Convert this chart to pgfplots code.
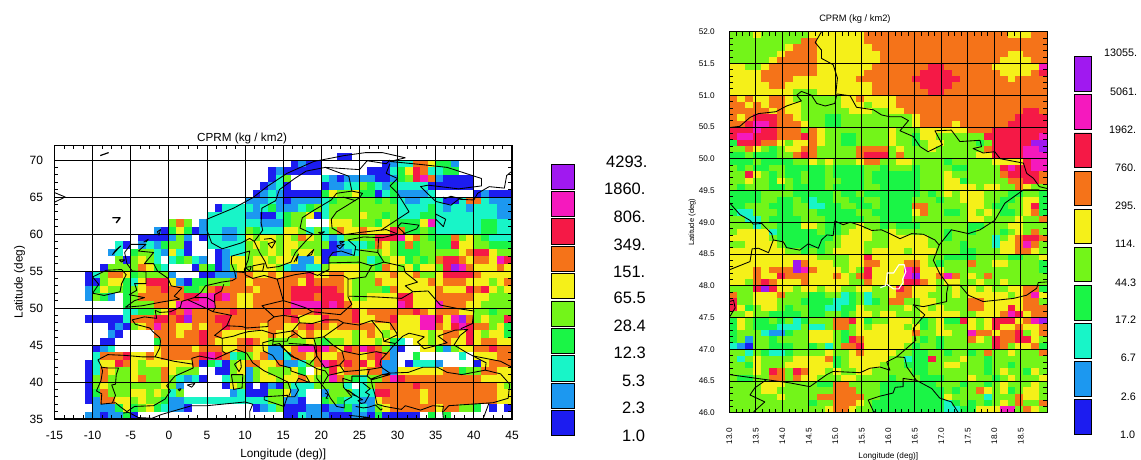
\documentclass[border=0pt]{standalone}
\usepackage{fontspec}
\setmainfont{Liberation Sans}
\usepackage{pgfplots}
\usepackage{pgfplotstable}
\pgfplotsset{compat=1.18}
\definecolor{c1}{RGB}{28,28,240}
\definecolor{c2}{RGB}{28,152,240}
\definecolor{c3}{RGB}{24,245,200}
\definecolor{c4}{RGB}{26,245,70}
\definecolor{c5}{RGB}{115,245,25}
\definecolor{c6}{RGB}{245,240,25}
\definecolor{c7}{RGB}{245,115,25}
\definecolor{c8}{RGB}{245,25,70}
\definecolor{c9}{RGB}{245,25,190}
\definecolor{c10}{RGB}{160,25,240}
\pgfdeclareplotmark{lcell}{\pgfpathrectangle{\pgfpoint{-3.86pt}{-3.74pt}}{\pgfpoint{7.72pt}{7.48pt}}\pgfusepathqfill}
\pgfdeclareplotmark{rcell}{\pgfpathrectangle{\pgfpoint{-4.02pt}{-3.22pt}}{\pgfpoint{8.04pt}{6.44pt}}\pgfusepathqfill}
\pgfplotsset{
  colormap={cprm}{color=(white) color=(c1) color=(c2) color=(c3) color=(c4) color=(c5) color=(c6) color=(c7) color=(c8) color=(c9) color=(c10)},
  coast/.style={black,line width=0.85pt,forget plot,no marks,line join=round},
  cellaxis/.style={anchor=south west, scale only axis, hide axis, colormap name=cprm, point meta min=0, point meta max=10},
  mapaxis/.style={
    anchor=south west, scale only axis,
    grid=major, major grid style={black,line width=0.9pt},
    tick align=inside, tick style={black,line width=0.8pt}, major tick length=3pt, minor tick length=4pt,
    axis line style={black,line width=1.2pt},
    /pgf/number format/assume math mode=true,
  },
}
% rows: latitude of the cell centre, then classes 0 (no value), 1 (blue) ... 10 (purple); lon -11 ... 44
\pgfplotstableread[header=false]{
70.5  0 0 0 0 0 0 0 0 0 0  0 0 0 0 0 0 0 0 0 0  0 0 0 0 0 0 0 0 0 0  0 0 0 1 1 0 0 0 0 0  0 0 0 0 0 0 0 0 0 0  0 0 0 0 0 0
69.5  0 0 0 0 0 0 0 0 0 0  0 0 0 0 0 0 0 0 0 0  0 0 0 0 0 0 0 1 2 1  1 0 0 0 0 0 0 0 0 1  2 3 3 7 7 6 4 4 2 0  0 0 0 0 0 0
68.5  0 0 0 0 0 0 0 0 0 0  0 0 0 0 0 0 0 0 0 0  0 0 0 0 1 2 1 1 1 1  1 0 0 0 0 0 0 1 1 1  3 4 6 8 7 3 3 4 4 0  0 0 0 0 0 0
67.5  0 0 0 0 0 0 0 0 0 0  0 0 0 0 0 0 0 0 0 0  0 0 0 0 1 3 5 0 0 0  0 3 2 1 2 2 2 2 1 1  2 4 5 8 9 7 2 1 1 1  1 0 0 0 0 0
66.5  0 0 0 0 0 0 0 0 0 0  0 0 0 0 0 0 0 0 0 0  0 0 0 1 2 3 1 0 0 0  0 1 2 2 3 3 5 4 3 2  4 3 3 3 3 1 1 1 1 1  1 0 0 0 0 0
65.5  0 0 0 0 0 0 0 0 0 0  0 0 0 0 0 0 0 0 0 0  0 0 1 2 3 2 1 1 1 1  1 4 6 5 5 6 4 4 1 3  4 2 2 2 2 3 0 0 0 0  0 1 2 1 1 1
64.5  0 0 0 0 0 0 0 0 0 0  0 0 0 0 0 0 0 0 0 0  0 2 2 2 3 2 1 2 2 2  2 3 4 5 5 5 5 5 4 5  4 3 2 2 3 3 3 1 1 3  7 7 3 2 2 2
63.5  0 0 0 0 0 0 0 0 0 0  0 0 0 0 0 0 0 1 3 3  3 3 2 3 4 2 2 2 3 4  5 3 5 5 5 5 5 5 5 5  5 3 3 3 3 4 3 2 3 3  2 3 3 3 2 2
62.5  0 0 0 0 0 0 0 0 0 0  0 0 0 0 0 0 3 3 3 3  3 2 2 1 1 3 4 5 5 6  1 3 5 5 5 5 6 5 5 4  5 3 3 3 4 4 3 3 3 3  3 3 3 3 2 2
61.5  0 0 0 0 0 0 0 0 0 0  0 5 7 5 0 2 3 3 3 3  3 3 3 2 2 2 4 5 5 0  0 0 6 6 6 5 5 5 4 6  5 4 4 4 6 9 3 3 3 3  3 3 4 4 3 3
60.5  0 0 0 0 0 0 0 0 0 2  1 4 6 4 1 2 3 3 2 2  3 5 4 3 3 3 6 6 5 3  5 3 5 7 6 6 7 6 6 6  8 7 4 4 5 4 3 3 3 3  3 3 4 4 3 3
59.5  0 0 0 0 0 0 0 1 1 1  1 2 5 2 0 1 3 3 2 2  3 6 5 6 6 5 6 5 7 6  5 3 2 3 5 5 5 5 8 8  8 9 6 7 5 4 4 4 7 5  6 5 4 3 3 3
58.5  0 0 0 0 3 1 0 2 3 2  4 5 5 1 0 0 3 3 3 3  3 5 6 5 6 5 6 6 5 5  5 5 1 2 3 3 3 4 7 6  5 4 7 4 5 5 4 4 8 6  6 5 5 4 4 4
57.5  0 0 0 2 3 0 4 5 5 3  2 6 3 1 0 0 0 1 2 3  3 5 5 5 6 5 6 5 6 6  5 1 1 2 2 3 5 5 5 6  5 4 4 4 5 5 5 5 5 6  7 8 8 6 5 5
56.5  0 0 0 0 5 1 5 6 5 3  0 3 4 5 3 2 0 1 2 6  6 5 6 6 5 6 6 6 2 2  6 1 5 5 5 5 5 3 4 5  6 6 4 5 4 5 7 8 8 7  6 7 7 6 9 8
55.5  0 0 1 5 5 5 5 7 6 4  3 0 0 0 1 5 4 1 2 5  6 5 6 6 6 5 3 2 2 3  3 5 6 6 6 6 5 5 4 7  6 5 6 4 6 6 5 8 10 9  7 6 6 6 7 6
54.5  1 3 5 7 7 6 4 5 5 5  5 2 0 0 0 1 1 2 2 2  7 7 6 6 7 6 7 7 7 8  6 6 7 7 6 6 5 5 6 6  7 6 6 7 5 5 6 8 8 8  8 7 6 6 6 6
53.5  1 1 5 6 6 4 3 6 8 8  8 6 2 1 4 4 5 5 5 7  7 6 7 7 7 7 7 7 6 8  7 7 7 7 6 5 5 5 7 6  6 6 6 6 6 7 6 7 7 7  6 6 6 5 6 7
52.5  2 4 6 5 5 4 5 6 7 7  8 7 7 4 4 5 7 8 7 7  7 7 6 7 7 7 7 8 8 8  8 8 8 7 6 5 5 5 5 4  7 6 6 6 6 6 7 6 6 6  8 7 8 6 5 6
51.5  2 5 4 2 0 4 5 7 7 7  7 7 7 8 8 9 9 8 9 7  6 6 7 7 7 7 7 8 8 8  7 8 8 8 6 5 5 6 6 6  6 8 8 6 6 6 7 7 7 7  7 6 6 5 5 5
50.5  0 0 0 0 0 4 5 5 5 7  7 6 9 9 9 9 9 7 7 7  6 6 7 7 7 7 7 9 9 9  9 8 9 8 7 6 6 6 6 6  6 9 8 6 6 6 9 7 7 7  6 6 5 5 5 5
49.5  0 0 0 0 0 3 3 4 4 5  6 8 7 9 7 7 7 7 7 8  7 7 7 7 7 7 8 7 7 7  8 7 7 7 7 8 6 7 7 7  7 7 7 8 7 6 7 7 7 6  6 5 5 4 5 5
48.5  1 1 1 1 1 3 7 7 7 8  8 7 8 10 7 7 7 8 8 7  7 7 7 7 7 7 7 8 6 6  6 8 7 7 7 8 6 6 7 7  8 6 6 6 9 9 8 6 9 10  7 5 6 5 5 8
47.5  0 0 0 1 2 1 5 6 7 9  7 7 6 6 7 6 7 7 8 7  7 7 7 6 7 7 6 6 7 8  7 7 6 7 7 7 7 7 6 6  7 6 6 6 9 9 7 6 8 9  8 7 7 5 6 4
46.5  0 0 0 2 1 0 0 0 0 7  7 7 6 7 7 8 7 7 6 6  6 6 6 6 7 6 6 7 6 7  6 6 6 6 6 5 6 7 6 5  6 6 6 6 6 5 6 7 7 6  8 6 5 6 6 4
45.5  0 0 1 1 0 0 0 0 0 4  7 7 7 7 7 8 7 6 6 6  7 8 7 6 5 5 5 5 5 6  5 4 5 5 6 5 6 6 5 6  4 3 0 6 6 5 6 7 6 6  8 6 7 7 6 6
44.5  0 1 2 3 0 0 0 0 0 6  7 7 7 7 6 7 7 7 6 6  7 7 6 6 2 2 6 7 9 9  8 9 7 6 8 7 9 8 7 5  2 1 0 0 6 6 4 2 5 6  6 7 7 8 7 7
43.5  0 3 7 7 7 8 6 6 7 6  7 7 7 7 7 8 9 8 7 3  4 5 6 7 2 2 3 7 7 6  7 6 6 7 7 7 6 7 8 7  2 0 0 4 0 0 0 0 0 3  0 6 6 6 7 7
42.5  1 3 6 6 8 7 6 5 6 6  6 6 6 6 7 1 4 3 1 5  6 7 7 6 6 7 2 2 3 5  7 9 8 7 8 7 8 6 8 2  2 0 1 3 3 3 2 0 0 0  0 1 6 7 7 7
41.5  1 3 7 6 5 5 6 5 5 5  7 6 5 5 5 0 0 1 1 5  6 2 5 6 5 5 5 6 4 0  6 5 8 6 7 7 6 7 7 2  2 6 6 6 6 6 6 7 7 4  5 5 7 7 6 6
40.5  1 5 7 5 5 5 6 7 5 5  7 5 3 2 3 1 0 0 3 5  5 2 5 6 6 5 6 6 7 6  5 5 9 7 5 4 3 5 5 7  9 8 7 7 7 7 7 7 7 7  7 7 6 6 6 6
39.5  1 5 6 5 5 5 5 5 5 5  6 5 2 0 0 0 0 0 1 6  5 1 0 1 2 1 5 3 3 3  5 5 5 5 3 0 3 5 7 7  7 7 7 8 7 7 7 7 7 7  7 7 7 7 6 5
38.5  1 4 7 5 5 5 6 6 5 6  5 3 5 0 0 0 0 0 0 2  3 1 1 1 5 5 6 2 3 0  0 2 5 5 5 3 3 3 8 8  7 7 7 7 6 7 7 7 7 7  7 7 7 7 6 6
37.5  1 2 7 7 6 6 5 6 5 5  4 2 2 3 3 3 3 3 3 3  3 3 3 3 5 5 2 2 1 0  0 4 5 4 3 3 2 2 6 7  7 7 7 7 6 7 7 7 7 7  7 7 7 7 6 6
36.5  0 2 2 2 4 6 4 5 6 4  3 2 2 1 0 0 0 0 0 0  0 0 1 2 3 5 1 1 1 2  2 1 2 2 4 2 3 2 5 6  7 7 7 7 7 7 6 7 7 5  5 4 0 1 0 1
35.5  2 2 1 2 2 4 1 0 0 0  0 0 0 0 0 0 0 0 0 0  0 0 0 0 0 0 1 1 3 2  2 2 1 1 1 2 2 1 4 1  1 1 1 1 0 4 0 4 0 0  0 0 0 0 0 0
}\leftdata
% rows: latitude of the cell centre, then classes; 40 cells of 0.15 deg from 13.0 to 19.0
\pgfplotstableread[header=false]{
51.95  5 5 5 6 5 5 5 5 5 5 6 6 6 6 6 6 6 7 7 7  7 7 7 7 7 7 7 7 7 7 7 7 7 7 7 6 6 6 7 7
51.85  5 5 5 5 5 5 5 5 5 7 7 6 6 6 6 6 6 7 7 7  7 7 7 7 7 7 7 7 7 7 7 7 7 7 7 7 7 7 7 7
51.75  5 5 5 5 5 5 5 6 7 7 7 6 6 6 6 6 6 6 7 7  7 7 7 7 7 7 7 7 7 7 7 7 7 7 7 7 7 7 7 7
51.65  5 5 5 5 5 5 6 7 7 7 7 6 6 6 6 6 6 6 6 7  7 7 7 7 7 7 7 7 7 7 7 7 7 7 7 6 6 7 7 7
51.55  5 5 5 5 5 6 7 7 7 7 7 6 6 6 6 6 6 6 6 7  7 7 7 7 7 7 7 7 7 7 7 7 7 7 6 6 6 6 7 7
51.45  6 6 5 5 6 7 7 7 7 7 7 6 6 6 6 6 6 6 7 7  7 7 7 7 7 8 8 7 7 7 7 7 7 6 6 6 6 6 6 9
51.35  6 6 6 6 7 7 7 7 7 7 7 6 6 6 6 6 6 7 7 7  7 7 7 7 8 8 8 8 7 7 7 7 7 7 6 6 6 6 7 8
51.25  6 6 6 6 7 7 7 7 6 6 6 6 6 6 6 6 7 7 7 7  7 7 7 8 8 8 8 8 8 7 7 7 7 7 7 6 7 7 7 7
51.15  6 6 6 6 6 7 7 6 6 6 6 6 6 6 6 6 6 6 7 7  7 7 7 7 8 8 8 8 7 7 7 7 7 7 7 7 7 7 7 7
51.05  6 6 6 6 6 6 6 6 5 5 5 6 6 6 6 6 6 6 7 7  7 7 7 7 7 8 8 7 7 7 7 7 7 7 7 7 7 7 7 7
50.95  7 6 7 6 6 7 7 6 5 5 5 5 5 5 6 6 7 6 6 6  6 7 7 7 7 7 7 7 7 7 7 7 7 7 7 7 7 7 7 7
50.85  7 7 6 7 6 7 7 6 6 5 5 5 5 5 6 6 6 5 6 6  6 7 7 7 7 7 7 7 7 7 7 7 7 7 7 7 7 7 7 7
50.75  7 7 7 7 7 6 7 6 6 5 5 5 5 5 5 6 6 6 5 5  6 6 7 7 7 7 7 7 7 7 7 7 7 7 7 7 7 8 8 7
50.65  7 6 7 8 8 8 7 7 6 5 5 5 4 4 5 5 5 5 5 5  5 5 5 6 7 7 7 7 7 7 7 7 7 7 7 7 8 8 8 8
50.55  7 7 8 9 9 8 7 7 7 6 5 5 4 4 5 5 5 5 5 5  5 5 5 6 7 7 7 7 6 7 7 7 7 7 7 8 8 8 8 8
50.45  8 8 8 9 8 8 7 7 7 5 7 6 5 5 5 5 5 5 5 5  6 5 5 5 6 6 6 6 6 6 7 7 7 8 8 8 8 8 8 8
50.35  8 9 9 8 8 8 7 7 7 8 7 6 5 5 4 4 5 5 5 5  6 5 5 4 6 6 5 5 5 5 5 5 8 8 8 8 8 8 8 9
50.25  4 8 8 8 7 7 6 5 6 6 7 6 5 5 4 4 5 5 5 5  6 5 5 4 5 6 6 5 5 5 5 4 5 8 8 8 8 8 10 10
50.15  5 5 7 6 5 4 5 6 6 7 7 5 5 5 5 5 7 7 7 7  5 6 5 5 5 6 5 5 5 5 5 5 7 8 8 8 8 9 9 10
50.05  4 4 5 4 4 4 5 5 7 8 7 5 5 5 5 5 7 8 8 8  5 7 5 5 5 5 5 5 5 5 5 6 6 8 8 8 8 9 9 9
49.95  4 4 4 5 4 4 4 4 5 5 6 5 6 5 5 5 6 7 7 5  5 6 6 5 5 5 5 4 5 5 5 5 5 6 6 6 6 8 9 9
49.85  5 4 5 4 4 5 5 4 4 4 4 4 5 4 4 4 4 5 5 4  5 5 5 4 5 5 5 5 4 4 5 5 5 5 8 9 8 8 9 9
49.75  5 5 8 6 5 4 5 4 4 5 4 4 5 4 4 4 4 5 4 4  4 4 4 4 5 5 5 6 5 5 5 5 5 5 7 8 8 8 8 7
49.65  5 5 6 5 5 4 6 5 4 5 4 4 5 5 4 4 4 5 4 4  4 4 4 4 5 5 5 6 6 4 5 5 5 5 5 7 7 8 8 7
49.55  5 4 5 5 5 4 4 5 4 4 4 4 5 4 4 4 4 5 5 4  4 4 4 4 5 5 5 6 6 6 6 5 6 6 5 5 7 6 5 5
49.45  4 4 4 4 5 5 5 5 4 4 4 4 4 5 4 4 5 4 4 4  4 4 4 4 5 4 5 6 5 6 6 6 5 5 5 4 4 5 5 4
49.35  4 4 4 4 5 5 4 4 5 4 3 4 4 5 5 4 4 5 5 4  4 4 4 5 5 5 4 5 5 6 6 6 5 5 4 4 5 6 6 4
49.25  4 4 5 5 5 4 4 4 5 5 3 3 4 4 5 5 4 4 5 4  4 4 4 7 7 5 5 5 5 5 6 6 5 4 4 5 5 6 8 4
49.15  4 3 3 5 5 5 4 4 5 5 5 4 4 4 4 4 5 5 4 4  4 4 4 6 7 5 5 4 4 5 6 5 6 5 4 4 5 6 7 4
49.05  5 5 3 3 5 4 4 4 4 5 5 5 4 4 4 4 4 5 5 4  4 4 4 5 5 5 5 5 5 5 6 6 5 5 5 5 6 5 5 7
48.95  5 5 5 3 5 5 4 4 4 6 6 5 4 4 5 5 6 5 5 4  5 4 4 4 5 5 5 5 5 5 4 4 5 5 5 6 6 5 5 5
48.85  5 6 6 6 6 3 4 4 4 4 4 5 4 4 5 6 6 6 5 5  6 5 5 5 5 5 5 4 5 5 4 5 5 5 4 5 6 5 7 5
48.75  6 6 6 6 6 5 4 4 4 4 4 4 4 5 6 6 6 6 5 5  6 6 6 6 6 5 5 4 5 5 5 5 5 3 5 6 7 8 8 7
48.65  5 5 6 6 6 6 5 4 4 4 4 4 5 5 6 6 6 5 5 5  6 6 6 6 6 5 5 5 5 4 5 5 5 3 6 6 7 9 7 5
48.55  6 6 6 6 6 6 6 5 5 4 5 4 5 6 6 6 6 5 6 6  6 6 5 6 6 6 5 5 5 4 4 5 5 5 6 6 7 7 6 5
48.45  6 6 6 6 6 6 6 6 6 6 6 5 5 5 5 6 6 8 6 6  6 6 6 6 6 5 5 4 4 4 4 5 5 5 5 4 4 5 5 6
48.35  6 6 6 6 6 6 6 6 10 7 6 6 6 5 5 6 6 7 7 6  6 6 7 7 6 5 4 5 5 5 7 5 5 6 6 5 5 5 5 4
48.25  6 6 6 7 6 7 7 7 10 9 7 6 6 6 5 6 5 8 6 6  6 6 9 8 6 6 6 5 5 5 5 5 5 5 5 5 5 5 5 4
48.15  6 6 6 7 6 6 8 7 7 7 6 6 6 7 6 5 7 8 6 6  6 6 9 10 6 6 7 9 7 5 6 5 7 5 5 5 5 5 5 5
48.05  6 6 5 7 8 7 6 6 6 7 6 6 6 6 6 5 5 7 6 6  6 6 8 8 7 6 5 6 6 5 5 6 5 5 6 5 5 5 5 5
47.95  5 5 5 8 10 8 6 6 5 6 6 5 6 6 5 5 6 6 5 5  6 8 7 6 6 6 5 5 6 5 6 5 6 5 5 6 6 7 7 4
47.85  7 5 5 6 6 6 7 5 5 5 4 4 5 5 3 4 5 3 5 5  6 7 7 6 6 5 5 5 6 5 6 6 6 6 6 5 6 7 9 6
47.75  8 5 5 6 6 6 5 5 5 4 4 4 4 3 3 4 5 3 4 5  7 7 5 5 6 6 5 5 5 5 7 7 6 6 6 6 6 7 7 5
47.65  8 6 4 5 6 6 5 4 5 5 4 4 3 3 4 4 6 5 5 5  5 5 6 5 6 5 6 5 5 5 7 7 6 6 6 8 6 7 7 7
47.55  5 5 6 5 5 4 4 4 4 5 4 4 5 5 4 5 6 6 5 6  6 5 5 5 6 6 6 6 6 5 5 6 6 6 7 9 8 6 7 7
47.45  4 6 5 4 4 5 4 5 3 4 5 5 5 7 7 8 6 4 5 5  6 6 6 5 4 5 6 4 4 8 6 5 6 8 8 8 6 7 9 10
47.35  4 6 5 4 4 4 3 3 3 5 3 3 5 7 7 5 6 5 6 6  6 6 5 6 4 5 6 5 5 5 6 5 6 8 6 6 7 6 6 7
47.25  4 5 5 5 3 2 2 4 5 5 6 6 6 5 4 5 6 6 6 6  6 6 6 7 5 5 6 6 5 5 9 7 7 6 7 7 8 5 6 7
47.15  4 5 2 5 5 4 5 5 5 5 6 6 6 5 4 8 7 6 6 6  6 6 6 5 4 5 4 5 5 5 7 6 5 8 7 7 8 8 6 5
47.05  3 2 1 5 5 4 4 4 5 5 4 5 3 5 7 7 8 6 6 6  6 6 5 4 5 5 4 5 5 5 5 5 5 8 7 5 6 6 7 4
46.95  5 5 3 5 4 3 3 4 5 5 5 5 6 5 5 6 7 6 6 6  6 5 5 4 4 5 5 4 5 5 4 5 7 5 5 6 5 5 5 7
46.85  5 3 5 6 5 5 5 5 6 6 6 6 7 4 5 6 6 6 6 6  5 5 3 4 4 8 5 5 5 6 5 5 4 5 5 5 5 5 5 5
46.75  5 5 4 6 5 5 5 6 6 6 6 6 6 4 5 6 6 6 6 5  5 5 4 4 4 5 5 6 6 5 5 5 4 5 5 4 5 5 5 5
46.65  5 5 5 6 5 8 7 5 8 7 6 6 5 6 5 5 6 6 5 5  5 5 5 4 4 5 5 5 5 5 5 5 4 5 6 5 5 4 6 5
46.55  5 4 4 5 5 7 7 5 7 6 6 5 5 5 6 6 5 5 5 5  4 5 5 5 4 4 4 5 5 5 6 5 5 4 5 6 5 5 5 6
46.45  5 5 5 5 6 6 6 5 5 5 5 4 4 7 7 5 5 5 5 4  4 4 4 4 4 4 5 5 5 4 5 5 4 5 6 5 5 5 6 5
46.35  5 5 5 5 6 6 5 5 5 5 5 5 5 7 7 7 5 5 5 4  4 4 4 4 4 4 4 5 4 5 5 7 6 5 6 4 5 6 6 5
46.25  5 5 5 5 5 5 6 5 5 5 5 7 7 7 7 7 7 5 5 4  4 4 4 4 4 4 4 6 5 5 5 5 3 5 5 5 7 6 6 5
46.15  5 5 5 5 5 5 5 5 5 5 4 5 5 7 7 7 6 5 4 4  4 4 4 4 4 4 4 3 4 5 4 5 4 5 6 5 7 5 5 7
46.05  5 5 5 5 5 5 5 5 5 5 5 5 6 7 7 6 5 5 4 4  4 4 4 4 4 4 4 3 3 4 4 6 6 6 9 9 5 7 6 5
}\rightdata
\newcommand{\legbox}[5]{\addplot[forget plot,no marks,fill=#5,draw=black,line width=0.8pt] coordinates {(#1,#3)(#2,#3)(#2,#4)(#1,#4)(#1,#3)};}
\begin{document}
\begin{tikzpicture}
\path[use as bounding box] (0,0) rectangle (1141pt,459pt);
% ---------- left map: cells, then grid and coasts above them
\begin{axis}[cellaxis, at={(54.5pt,40pt)}, width=457.5pt, height=273.8pt, xmin=-15, xmax=45, ymin=35, ymax=72]
\pgfplotsinvokeforeach{1,...,56}{
  \addplot[forget plot,scatter,only marks,mark=lcell,scatter src=explicit] table[x expr={-11.5+#1},y index=0,meta index=#1] {\leftdata};
}
\end{axis}
\begin{axis}[mapaxis, at={(54.5pt,40pt)}, width=457.5pt, height=273.8pt,
  xmin=-15, xmax=45, ymin=35, ymax=72,
  xtick={-15,-10,...,45}, ytick={35,40,...,70}, minor x tick num=3, minor y tick num=4,
  ticklabel style={font=\fontsize{12}{12}\selectfont},
  xticklabel style={yshift=-9pt}, yticklabel style={xshift=-8pt},
  title={CPRM (kg / km2)}, title style={font=\fontsize{11.7}{12}\selectfont,at={(axis description cs:0.41,1)},yshift=-8pt},
  xlabel={Longitude (deg)]}, xlabel style={font=\fontsize{11.8}{12}\selectfont,at={(axis description cs:0.5,0)},yshift=-26pt},
  ylabel={Latitude (deg)}, ylabel style={font=\fontsize{11.8}{12}\selectfont,at={(axis description cs:0,0.5)},yshift=26pt},
]
\addplot[coast] coordinates {(-5.5,36)(-6.3,36.6)(-7,37.2)(-8.9,37)(-8.8,38.4)(-9.5,38.8)(-8.9,40.2)(-8.7,41.5)(-8.9,42.2)(-9.3,43)(-8,43.7)(-5.8,43.6)(-3.5,43.4)(-1.8,43.4)(-1.2,44.6)(-1.1,45.5)(-1.2,46)(-2.1,46.8)(-2.5,47.3)(-4.4,47.8)(-4.8,48.4)(-3.2,48.8)(-1.6,48.6)(-1.8,49.7)(-1.2,49.4)(0.2,49.5)(1.5,50.1)(1.7,50.9)(3.3,51.4)(4.2,52.1)(4.8,53)(6.9,53.5)(8.3,53.7)(8.8,54)(8.6,55)(8.2,56)(8.2,57)(10.6,57.7)(10.4,56.5)(9.9,55.2)(10,54.5)(11,54)(12.5,54.4)(14.2,53.9)(16.5,54.5)(18.5,54.8)(19.5,54.4)(21,55.2)(21,56.8)(21.5,57.5)(22.6,57.7)(24.3,57.1)(24.5,58.3)(23.5,59.2)(25.5,59.6)(28,59.5)(30,60)(28.5,60.6)(25,60.2)(22.9,59.9)(21.4,60.8)(21.3,62)(22,63)(25,64.9)(25.4,65.5)(24,65.8)(22,65.5)(21.3,64.6)(19,63.2)(17.5,62.2)(17.2,60.8)(18.9,60)(17.9,59)(16.6,57.5)(16,56.2)(14.4,55.6)(12.9,55.4)(12.6,56.3)(11.9,57.5)(11.2,59)(10.6,59.4)(9.5,58.8)(7,58)(5.6,58.8)(5,60.5)(5,62)(8.5,63.5)(11,64.9)(13,66.5)(15.5,68.2)(19,69.8)(23,70.6)(25.8,71)(28,71)(31,70.3)(29,69.8)(33,69.4)(36.5,69)(41,67.5)(41,66.5)(38,66.1)(34,66.6)(33,66.4)(35,64.4)(37,63.9)(38,64.7)(40,64.6)(40.5,65.5)(42,66.4)(44,66.2)(44.3,67.9)(45,68.5)};
\addplot[coast] coordinates {(-5.5,36)(-4.5,36.7)(-2,36.8)(-0.5,37.7)(0.2,38.8)(-0.3,39.5)(0.8,40.8)(3.2,41.9)(3,43.2)(4,43.5)(6,43.1)(7.5,43.8)(8.8,44.4)(10.2,43.9)(11,42.6)(12.5,41.5)(14,40.8)(15.6,40)(16,38.8)(15.7,38)(16.5,38)(17,38.9)(16.6,39.7)(17,40.5)(18.5,39.9)(18,40.8)(16,41.5)(16,41.9)(14.5,42.3)(13.6,43.6)(12.4,44.2)(12.3,45.3)(13.7,45.7)(13.6,45)(14.5,45.2)(16,43.5)(18,42.6)(19.4,41.8)(19.4,40.5)(20.7,38.8)(21.2,37.8)(22,36.7)(23,36.5)(23,37.4)(24,38)(22.9,39.3)(22.8,40.5)(24,40.1)(24,40.8)(26,40.8)(26.6,40.3)(29,41)(28,41)(26.5,40.4)(26.7,39.4)(27,38.4)(27.3,37)(28.3,36.7)(30.5,36.3)(31,36.8)(33,36.2)(34.6,36.8)(36,36.7)(35.9,36)(36,35)};
\addplot[coast] coordinates {(28,41)(29,41.2)(31.4,41.3)(33.3,42)(35.2,42)(36.5,41.3)(38.4,41)(41.5,41.6)(41.6,42.6)(39,44)(37.4,45)(38.2,46.3)(39.2,47.1)(37.5,47)(35.3,46.2)(36.5,45.3)(35.4,45)(33.5,44.5)(32.6,45.4)(33.5,46.1)(31.5,46.6)(30.7,46.2)(29.7,45.2)(28.7,44)(27.8,43)(27.7,42.4)(28,41.9)(29,41.2)};
\addplot[coast] coordinates {(-5.7,50.1)(-3.5,50.3)(-1,50.8)(1.4,51.2)(0.7,51.6)(1.7,52.7)(0.3,53)(-0.1,54)(-1.5,55)(-2,56)(-3.2,56)(-2,57.5)(-4,57.7)(-3,58.6)(-5,58.6)(-5.8,57.5)(-5.5,56)(-4.8,55)(-3,54.9)(-3,53.6)(-3,53.3)(-4.5,53.3)(-4.2,52.4)(-5.2,51.8)(-3.2,51.4)(-4.5,51)(-5.7,50.1)};
\addplot[coast] coordinates {(-6.2,53.3)(-6.4,52.2)(-8.5,51.7)(-10,52)(-9.2,53.2)(-10,54.2)(-8.2,55.1)(-6.2,55.2)(-5.6,54.5)(-6.2,53.3)};
\addplot[coast] coordinates {(-15,64.3)(-13.6,65)(-15,65.6)};
\addplot[coast,line width=1.4pt] coordinates {(-7.4,62.2)(-6.4,62.2)(-6.9,61.5)};
\addplot[coast,line width=1.2pt] coordinates {(-9,70.6)(-7.9,71)};
\addplot[coast] coordinates {(-1.3,59.8)(-1.1,60.6)(-1.5,60.3)(-1.3,59.8)};
\addplot[coast] coordinates {(-3.3,58.9)(-2.7,59.3)(-3,58.9)};
\addplot[coast] coordinates {(-7.4,57.2)(-6.3,58.4)(-7,57.8)(-7.4,57.2)};
\addplot[coast] coordinates {(-6.5,56.5)(-5.8,56.5)(-6.2,56.2)(-6.5,56.5)};
\addplot[coast] coordinates {(12.5,38)(15.6,38.2)(15.1,36.7)(12.5,37.6)(12.5,38)};
\addplot[coast] coordinates {(8.2,41)(9.7,41)(9.6,39.2)(8.5,39)(8.2,41)};
\addplot[coast] coordinates {(8.6,42.4)(9.4,43)(9.5,42)(9.2,41.4)(8.6,42.4)};
\addplot[coast] coordinates {(23.6,35.5)(26.3,35.2)(24.5,35)};
\addplot[coast] coordinates {(2.4,39.6)(3.4,39.8)(3,39.3)(2.4,39.6)};
\addplot[coast] coordinates {(1.2,39)(1.6,39.1)(1.4,38.8)(1.2,39)};
\addplot[coast] coordinates {(18.1,57)(19,57.9)(18.7,57.2)(18.1,57)};
\addplot[coast] coordinates {(16.4,56.2)(17,57.3)(16.7,56.3)};
\addplot[coast] coordinates {(10,55.5)(10.8,55.6)(10.6,55)(10,55.5)};
\addplot[coast] coordinates {(11,55.7)(12.5,56)(12.3,55)(11,55)(11,55.7)};
\addplot[coast] coordinates {(22,58.4)(23,58.6)(22.4,58)(22,58.4)};
\addplot[coast] coordinates {(22.4,59)(23,59)(22.5,58.7)(22.4,59)};
\addplot[coast] coordinates {(19.6,60.2)(20.4,60.3)(20,60)(19.6,60.2)};
\addplot[coast] coordinates {(24,38.3)(24.6,38.1)(25.4,37.6)(24.8,37.5)(25.2,37.1)(25.7,37.2)(26.3,38.3)(25.8,38.6)(26.4,39.1)(25.4,39.9)};
\addplot[coast] coordinates {(24.5,36.7)(25.5,36.5)(26.2,36.6)(27.1,36.9)(27.8,36.2)(28,36.4)};
\addplot[coast] coordinates {(20.5,38.5)(20.9,38.3)(20.6,37.8)(20.9,37.8)};
\addplot[coast] coordinates {(23.5,38.9)(24.6,38.1)(23.2,39)};
\addplot[coast] coordinates {(14.5,45.2)(15,44.6)(14.7,44.8)(15.5,44.1)(16.5,43.3)(17,43.1)};
\addplot[coast] coordinates {(-1,35.6)(1,36.2)(3,36.8)(5,36.8)(7,37)(10,37.3)(11,37)(10.6,36)(10.6,35)};
\addplot[coast] coordinates {(-6,35.8)(-5.3,35.9)(-4,35.2)(-2.2,35.1)(-1,35.6)};
\addplot[coast] coordinates {(30.7,60)(32.5,60.7)(32.8,61.2)(30.5,61.5)(30,61)(31,60)(30.7,60)};
\addplot[coast] coordinates {(35,62)(36,61)(36.3,62)(35,62.7)(35,62)};
\addplot[coast] coordinates {(22.8,65)(24.5,64.5)};
\addplot[coast] coordinates {(38.5,64.7)(37,65.1)(36.2,64.8)(36,65)};
\addplot[coast] coordinates {(13,58.7)(14,59)(13.5,58.1)(13,58.7)};
\addplot[coast] coordinates {(12.5,59.3)(13.4,59.4)(14,59)};
% borders
\addplot[coast] coordinates {(-1.8,43.4)(0.7,42.8)(3.2,42.4)};
\addplot[coast] coordinates {(-8.8,42)(-8.1,41.9)(-6.6,41.9)(-6.9,41)(-7,39.7)(-7.5,39.6)(-7,38.2)(-7.4,37.2)};
\addplot[coast] coordinates {(2.5,51.1)(4.2,50.3)(4.8,50)(5.8,49.5)(8.2,49)(7.6,47.6)(6,46.3)(7,45.9)(7,44.2)(7.5,43.8)};
\addplot[coast] coordinates {(3.4,51.4)(5,51.4)(6,50.8)};
\addplot[coast] coordinates {(7.2,53.2)(6.9,52.3)(6,51.8)(6,50.8)(6.1,50.1)(5.8,49.5)};
\addplot[coast] coordinates {(8.7,54.9)(9.9,54.8)};
\addplot[coast] coordinates {(14.2,53.9)(14.6,52.5)(15,51)(13,50.5)(12.2,50.3)(13.8,48.8)(13,48.2)(13,47.5)(10.2,47.3)(9.6,47.5)(7.6,47.6)};
\addplot[coast] coordinates {(7,45.9)(8.5,46.2)(9.3,46.5)(10.4,46.8)(12.2,47)(13.7,46.5)(13.7,45.7)};
\addplot[coast] coordinates {(15,51)(16.3,50.6)(18,50)(18.8,49.5)(22.5,49.1)(24,50.5)(23.5,51.5)(23.5,53)(23.5,54)(22.8,54.4)(19.8,54.4)};
\addplot[coast] coordinates {(13.8,48.8)(15,49)(17,48.7)(17.1,48)(18.8,47.9)(20.5,48.4)(22.2,48.4)(22.9,48)};
\addplot[coast] coordinates {(18.8,49.5)(17,48.7)};
\addplot[coast] coordinates {(17.1,48)(16.2,46.9)(13.7,46.5)};
\addplot[coast] coordinates {(16.2,46.9)(17.5,45.9)(19,45.9)(20.3,46.1)(22.9,48)(24.9,47.7)(26.6,48.3)(28,46.5)(28.2,45.5)(29.7,45.2)};
\addplot[coast] coordinates {(26.6,48.3)(29,48)(30,46.4)(28.2,45.5)};
\addplot[coast] coordinates {(22.7,44.2)(25,43.7)(27.2,44.1)(28.6,43.8)};
\addplot[coast] coordinates {(20.3,46.1)(21.5,45)(22.7,44.2)(23,43)(22.4,42.3)(23,41.4)(26.3,41.7)(28,42)};
\addplot[coast] coordinates {(26.3,41.7)(26,40.8)};
\addplot[coast] coordinates {(19.4,41.8)(20.5,41.5)(20.9,40.9)(20.2,39.7)};
\addplot[coast] coordinates {(20.9,40.9)(23,41.4)};
\addplot[coast] coordinates {(15.7,45.2)(16,45.2)(19,45)(19.4,43.5)(18.5,42.5)};
\addplot[coast] coordinates {(13.6,45.5)(15.5,45.5)(15.7,46)(16.5,46.5)};
\addplot[coast] coordinates {(19,45.9)(19.3,44.9)(19.4,43.5)(20.5,41.9)(22.4,42.3)};
\addplot[coast] coordinates {(21,56.1)(25,56.2)(26.6,55.7)};
\addplot[coast] coordinates {(24.4,57.9)(27.4,57.5)};
\addplot[coast] coordinates {(23.5,53.9)(25.8,54.2)(26.6,55.7)(28.2,56.2)(27.4,57.5)(27.5,59.4)};
\addplot[coast] coordinates {(23.6,51.6)(27,51.5)(30.5,51.3)(32,52.2)(34,52.3)(35.6,50.4)(38,49.9)(40,49.6)(39.8,47.9)(38.3,47.2)};
\addplot[coast] coordinates {(32,52.2)(31,53)(32.6,53.5)(31,54.8)(30.8,55.6)(28.2,56.2)};
\addplot[coast] coordinates {(11.2,59)(12.3,60.5)(12.1,61.5)(12.2,63.5)(14,64.5)(14.5,66)(16.5,67.5)(18,68.5)(20.5,69)(23.6,67.8)(24,65.8)};
\addplot[coast] coordinates {(20.5,69)(25,68.7)(26,69.9)(28.5,69.5)(29,70)};
\addplot[coast] coordinates {(29,69.5)(28.5,68.2)(30,67.5)(29,66.5)(30,65.5)(31.5,63)(27.8,60.5)};
\addplot[coast] coordinates {(41.5,41.6)(43.5,41.1)(44.7,39.7)(44.5,37.8)(42.5,37.2)(36.7,36.8)(36,36)};
\addplot[coast] coordinates {(40,43.5)(43.5,42.8)(45,42)};
\addplot[coast] coordinates {(42,37.2)(41.2,35)};
\end{axis}
% ---------- right map: cells, then grid and borders above them
\begin{axis}[cellaxis, at={(729.3pt,46.3pt)}, width=318pt, height=381pt, xmin=13, xmax=19, ymin=46, ymax=52]
\pgfplotsinvokeforeach{1,...,40}{
  \addplot[forget plot,scatter,only marks,mark=rcell,scatter src=explicit] table[x expr={13.075+0.15*(#1-1)},y index=0,meta index=#1] {\rightdata};
}
\end{axis}
\begin{axis}[mapaxis, at={(729.3pt,46.3pt)}, width=318pt, height=381pt,
  xmin=13, xmax=19, ymin=46, ymax=52,
  xtick={13,13.5,...,18.5}, ytick={46,46.5,...,52}, minor x tick num=3, minor y tick num=4,
  /pgf/number format/.cd, fixed, fixed zerofill, precision=1, /tikz/.cd,
  ticklabel style={font=\fontsize{8.2}{9}\selectfont},
  xticklabel style={rotate=90,anchor=east,xshift=-12pt}, yticklabel style={xshift=-11pt},
  title={CPRM (kg / km2)}, title style={font=\fontsize{9.3}{10}\selectfont,at={(axis description cs:0.395,1)},yshift=-1pt},
  xlabel={Longitude (deg)]}, xlabel style={font=\fontsize{8.2}{9}\selectfont,at={(axis description cs:0.5,0)},yshift=-36pt},
  ylabel={Latitude (deg)}, ylabel style={font=\fontsize{7.6}{8}\selectfont,at={(axis description cs:0,0.5)},yshift=30pt},
]
\addplot[coast] coordinates {(13.00,50.49)(13.20,50.51)(13.39,50.65)(13.55,50.71)(13.88,50.74)(14.08,50.83)(14.36,50.91)(14.27,51.00)(14.36,51.06)(14.55,51.00)(14.65,50.87)(14.81,50.83)(14.99,50.87)(15.03,51.02)(15.28,50.99)(15.40,50.81)(15.72,50.77)(15.87,50.69)(16.03,50.66)(16.25,50.66)(16.38,50.60)(16.22,50.44)(16.47,50.35)(16.60,50.19)(16.75,50.11)(17.02,50.22)(16.88,50.44)(17.19,50.45)(17.35,50.27)(17.73,50.29)(17.76,50.19)(17.60,50.16)(17.79,50.09)(18.01,50.11)(18.11,50.00)(18.55,49.93)(18.61,49.77)(18.74,49.69)(18.85,49.56)(19.00,49.53)};
\addplot[coast] coordinates {(14.74,52.0)(14.62,51.83)(14.74,51.71)(14.74,51.58)(14.96,51.48)(15.04,51.27)(15.01,51.03)};
\addplot[coast] coordinates {(13.00,49.31)(13.20,49.12)(13.39,49.03)(13.45,48.97)(13.61,48.98)(13.80,48.82)(13.83,48.72)(14.02,48.69)(14.08,48.60)(14.33,48.56)(14.49,48.66)(14.68,48.59)(14.74,48.72)(14.84,48.80)(14.96,48.79)(14.99,49.02)(15.15,48.96)(15.28,49.00)(15.47,48.95)(15.69,48.87)(15.87,48.88)(16.03,48.82)(16.22,48.74)(16.44,48.82)(16.66,48.81)(16.88,48.72)(16.96,48.64)(17.19,48.88)(17.51,48.82)(17.73,48.88)(18.01,49.03)(18.20,49.30)(18.55,49.51)(18.85,49.51)};
\addplot[coast] coordinates {(13,48.25)(13.39,48.38)(13.43,48.58)(13.55,48.59)(13.74,48.52)(13.83,48.72)};
\addplot[coast] coordinates {(16.96,48.64)(16.85,48.40)(16.97,48.19)(17.13,48.01)(17.35,48.01)(17.51,47.85)(17.79,47.75)(18.36,47.80)(18.61,47.85)(18.80,47.96)(18.83,48.05)(19,48.06)};
\addplot[coast] coordinates {(17.13,48.01)(17.10,47.88)(17.10,47.75)(16.66,47.67)(16.47,47.70)(16.69,47.54)(16.47,47.33)(16.52,47.14)(16.16,46.88)(16.31,46.87)(16.35,46.72)(16.53,46.51)(16.82,46.38)(16.97,46.23)(17.19,46.17)(17.32,46.0)};
\addplot[coast] coordinates {(13,46.60)(13.70,46.52)(14.14,46.47)(14.52,46.41)(14.84,46.60)(14.96,46.65)(15.47,46.63)(15.65,46.70)(15.84,46.72)(16.03,46.67)(15.97,46.80)(16.16,46.88)};
\addplot[coast] coordinates {(16.53,46.51)(16.28,46.54)(16.28,46.41)(16.13,46.40)(16.09,46.31)(15.84,46.26)(15.62,46.20)(15.72,46.02)(15.78,46.0)};
\addplot[coast] coordinates {(13.70,46.52)(13.48,46.39)(13.39,46.28)(13.67,46.17)(13.48,46.03)(13.45,46.0)};
\addplot[coast] coordinates {(13,47.50)(13.11,47.65)(13.08,47.77)(13,47.75)};
\addplot[forget plot,no marks,white,line width=1.1pt,line join=round] coordinates {(15.85,47.97)(15.95,48.0)(15.98,48.2)(16.1,48.2)(16.2,48.33)(16.3,48.33)(16.33,48.22)(16.27,48.1)(16.28,48.05)(16.22,47.98)(16.2,47.95)(16.1,47.95)(15.98,48.02)};
\end{axis}
% ---------- colour keys
\begin{axis}[at={(0pt,0pt)},anchor=south west,scale only axis,width=1141pt,height=459pt,xmin=0,xmax=1141,ymin=0,ymax=459,hide axis]
\legbox{551.3}{574.7}{295}{269.7}{c10}
\legbox{551.3}{574.7}{267.6}{242.3}{c9}
\legbox{551.3}{574.7}{240.3}{215}{c8}
\legbox{551.3}{574.7}{212.9}{187.6}{c7}
\legbox{551.3}{574.7}{185.5}{160.2}{c6}
\legbox{551.3}{574.7}{158.1}{132.8}{c5}
\legbox{551.3}{574.7}{130.8}{105.5}{c4}
\legbox{551.3}{574.7}{103.4}{78.1}{c3}
\legbox{551.3}{574.7}{76}{50.7}{c2}
\legbox{551.3}{574.7}{48.7}{23.4}{c1}
\legbox{1074.3}{1091}{402.3}{367.7}{c10}
\legbox{1074.3}{1091}{364.2}{329.6}{c9}
\legbox{1074.3}{1091}{326.1}{291.5}{c8}
\legbox{1074.3}{1091}{288}{253.4}{c7}
\legbox{1074.3}{1091}{249.9}{215.3}{c6}
\legbox{1074.3}{1091}{211.8}{177.2}{c5}
\legbox{1074.3}{1091}{173.7}{139.1}{c4}
\legbox{1074.3}{1091}{135.6}{101}{c3}
\legbox{1074.3}{1091}{97.5}{62.9}{c2}
\legbox{1074.3}{1091}{59.4}{24.8}{c1}
\end{axis}
\begin{scope}[every node/.style={anchor=west,inner sep=0pt,font=\fontsize{16.5}{17}\selectfont}]
\node at (606pt,297pt) {4293.};
\node at (604pt,270pt) {1860.};
\node at (613.5pt,242pt) {806.};
\node at (613.5pt,214pt) {349.};
\node at (613pt,187pt) {151.};
\node at (613.5pt,161pt) {65.5};
\node at (613.5pt,133pt) {28.4};
\node at (613.5pt,106pt) {12.3};
\node at (622pt,78pt) {5.3};
\node at (622pt,51pt) {2.3};
\node at (622pt,23pt) {1.0};
\end{scope}
\begin{scope}[every node/.style={anchor=west,inner sep=0pt,font=\fontsize{10.8}{12}\selectfont}]
\node at (1104pt,406pt) {13055.};
\node at (1110pt,367.3pt) {5061.};
\node at (1109pt,329.7pt) {1962.};
\node at (1115pt,291.3pt) {760.};
\node at (1115pt,253.3pt) {295.};
\node at (1115pt,215pt) {114.};
\node at (1115pt,176.7pt) {44.3};
\node at (1115pt,139pt) {17.2};
\node at (1120.7pt,101pt) {6.7};
\node at (1120.7pt,62.3pt) {2.6};
\node at (1120pt,24pt) {1.0};
\end{scope}
\end{tikzpicture}
\end{document}
